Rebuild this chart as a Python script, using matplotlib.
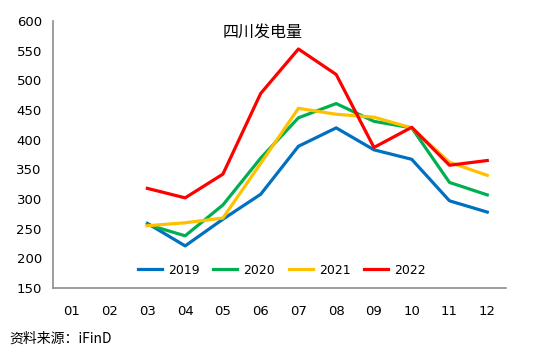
import matplotlib.pyplot as plt

plt.rcParams['font.family'] = ['DejaVu Sans', 'Noto Sans CJK SC']

# 月份与各年四川发电量（亿千瓦时）
months = ['01', '02', '03', '04', '05', '06', '07', '08', '09', '10', '11', '12']
x_idx = list(range(1, 13))
y2019 = [None, None, 259, 221, 266, 308, 389, 420, 383, 367, 297, 278]
y2020 = [None, None, 257, 238, 290, 369, 437, 461, 431, 420, 328, 307]
y2021 = [None, None, 255, 260, 268, 360, 453, 443, 438, 420, 362, 340]
y2022 = [None, None, 318, 302, 342, 478, 553, 510, 387, 421, 357, 365]

series = [('2019', y2019, '#0070C0'), ('2020', y2020, '#00B050'),
          ('2021', y2021, '#FFC000'), ('2022', y2022, '#FF0000')]

fig = plt.figure(figsize=(5.46, 3.58), dpi=100)
ax = fig.add_axes([0.097, 0.1955, 0.83, 0.7455])

for name, vals, col in series:
    xs = [x for x, v in zip(x_idx, vals) if v is not None]
    vs = [v for v in vals if v is not None]
    ax.plot(xs, vs, color=col, lw=2.3, label=name)

ax.set_xlim(0.5, 12.5)
ax.set_ylim(150, 600)
ax.set_yticks(range(150, 601, 50))
ax.set_xticks(x_idx)
ax.set_xticklabels(months)
ax.tick_params(length=0, labelsize=9.5, colors='black')
ax.tick_params(axis='x', pad=12)
ax.tick_params(axis='y', pad=8)
for s in ['top', 'right']:
    ax.spines[s].set_visible(False)
for s in ['left', 'bottom']:
    ax.spines[s].set_color('#8c8c8c')
    ax.spines[s].set_linewidth(1.2)

ax.text(0.462, 0.99, '四川发电量', transform=ax.transAxes, ha='center', va='top',
        fontsize=11.5, family=['Noto Sans CJK SC', 'DejaVu Sans'])
ax.legend(loc='center', bbox_to_anchor=(0.505, 0.067), ncol=4, frameon=False,
          fontsize=9, handlelength=1.9, columnspacing=1.1, handletextpad=0.5)

fig.text(0.018, 0.055, '资料来源：iFinD', fontsize=10, va='center',
         family=['Noto Sans CJK SC', 'DejaVu Sans'])

fig.savefig('out.png', dpi=100)
